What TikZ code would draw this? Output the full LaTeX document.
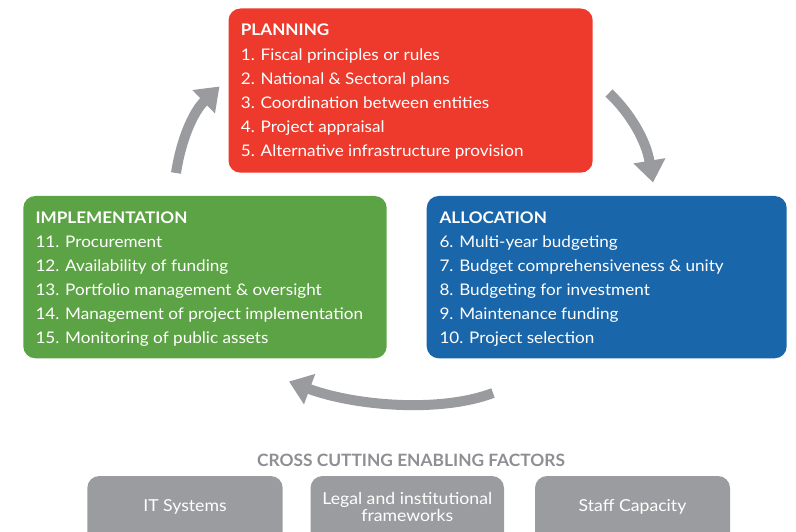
\documentclass[tikz,border=0pt]{standalone}
\usepackage{fontspec}
\setmainfont{Lato}[FakeStretch=1.07]
\newfontfamily\titlefont{Lato}[FakeStretch=1.02]
\usetikzlibrary{arrows.meta}
\definecolor{planred}{HTML}{EE3A2D}
\definecolor{implgreen}{HTML}{5CA345}
\definecolor{allocblue}{HTML}{1A66AA}
\definecolor{arrowgray}{HTML}{9A9B9E}
\definecolor{factgray}{HTML}{9B9C9F}
\definecolor{titlegray}{HTML}{8E8F92}
\tikzset{
  phasebox/.style={draw=none, rounded corners=12pt},
  linetext/.style={anchor=base west, inner sep=0pt, text=white, font=\fontsize{16}{18}\selectfont},
  headtext/.style={linetext, font=\fontsize{16}{18}\selectfont\bfseries},
  cyclearrow/.style={draw=arrowgray, line width=10pt, -{Triangle[width=31pt,length=22pt]}},
  factorbox/.style={fill=factgray, rounded corners=12pt},
  factortext/.style={text=white, align=center, inner sep=0pt, font=\fontsize{16.5}{18}\selectfont},
}
\begin{document}
\begin{tikzpicture}[x=1pt,y=-1pt]
\useasboundingbox (0,0) rectangle (796,532);
\clip (0,0) rectangle (796,532);
% phase boxes
\fill[planred, phasebox] (228.5,8.5) rectangle (592.7,172.7);
\coordinate (planbox) at (410.6,90.6);
\fill[implgreen, phasebox] (23.3,196) rectangle (386.7,358.3);
\coordinate (implbox) at (205,277);
\fill[allocblue, phasebox] (426.7,196) rectangle (786.7,358.3);
\coordinate (allocbox) at (606.7,277);
% planning text
\node[headtext] (ph) at (240.7,36) {PLANNING};
\foreach \t [count=\i] in {1. Fiscal principles or rules,2. National \& Sectoral plans,3. Coordination between entities,4. Project appraisal,5. Alternative infrastructure provision}
  \node[linetext] (p\i) at (240.7,36+24.14*\i) {\t};
% implementation text
\node[headtext] (ih) at (35.3,223.3) {IMPLEMENTATION};
\foreach \t [count=\i] in {11. Procurement,12. Availability of funding,13. Portfolio management \& oversight,14. Management of project implementation,15. Monitoring of public assets}
  \node[linetext] (i\i) at (35.3,223.3+24.05*\i) {\t};
% allocation text
\node[headtext] (ah) at (439.3,223.3) {ALLOCATION};
\foreach \t [count=\i] in {6. Multi-year budgeting,7. Budget comprehensiveness \& unity,8. Budgeting for investment,9. Maintenance funding,10. Project selection}
  \node[linetext] (a\i) at (439.3,223.3+24.1*\i) {\t};
% cycle arrows
\coordinate (la0) at (176,173);
\coordinate (la1) at (219.5,86.5);
\draw[cyclearrow] (la0) .. controls (181,140) and (193,112) .. (la1);
\coordinate (ra0) at (609,93);
\coordinate (ra1) at (653,182.5);
\draw[cyclearrow] (ra0) .. controls (630,113) and (646,140) .. (ra1);
\coordinate (ba0) at (493,393);
\coordinate (ba1) at (289,381.5);
\draw[cyclearrow] (ba0) .. controls (440,413) and (355,406) .. (ba1);
% cross cutting factors
\node[inner sep=0pt, text=titlegray, font=\titlefont\fontsize{17}{18}\selectfont\bfseries, anchor=base] (cct) at (411,466) {CROSS CUTTING ENABLING FACTORS};
\fill[factorbox] (87.3,476) rectangle (282.7,545);
\node[factortext, anchor=base] (f1) at (185,511.7) {IT Systems};
\fill[factorbox] (310.5,476) rectangle (504,545);
\node[factortext, anchor=base] (f2a) at (407.3,504.3) {Legal and institutional};
\node[factortext, anchor=base] (f2b) at (407.3,521.7) {frameworks};
\fill[factorbox] (535,476) rectangle (730,545);
\node[factortext, anchor=base] (f3) at (632.5,511.7) {Staff Capacity};
\end{tikzpicture}
\end{document}
